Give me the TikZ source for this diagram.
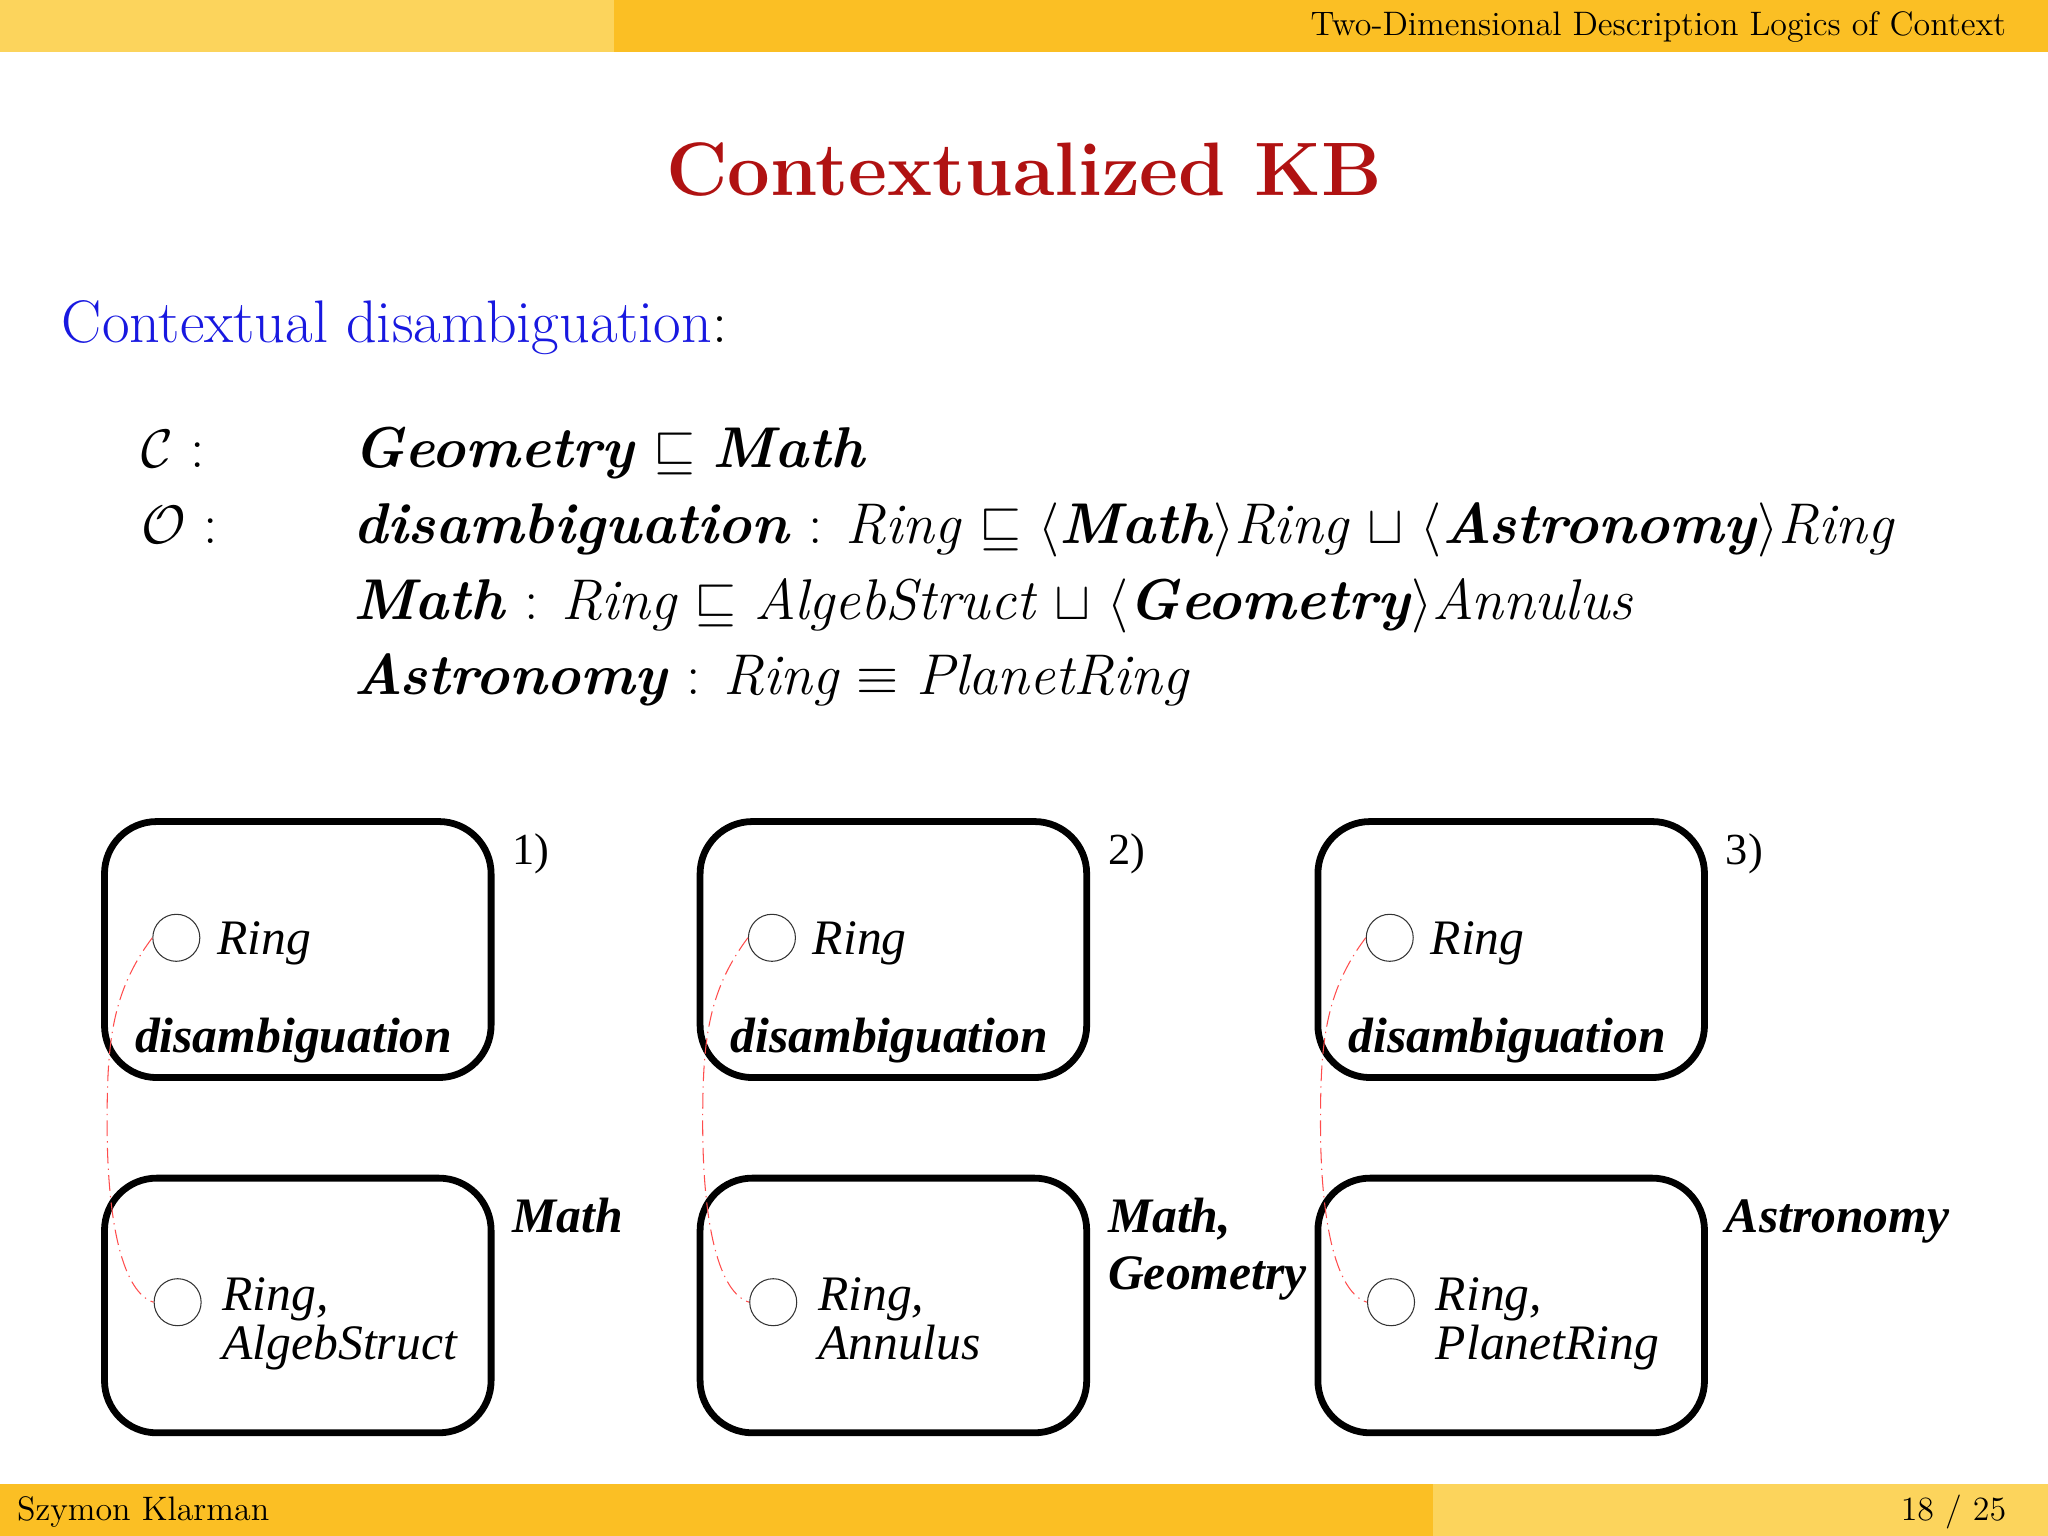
\documentclass[tikz,border=0pt]{standalone}
\usepackage{amsmath,amssymb}
\usepackage{fontspec}
\newfontfamily\tms{Liberation Serif}
\definecolor{hdark}{HTML}{FBBF24}
\definecolor{hlight}{HTML}{FCD45C}
\definecolor{ttl}{HTML}{B01212}
\definecolor{blu}{HTML}{1818E0}
\newcommand{\bi}[1]{\textbf{\textit{#1}}}
\begin{document}
\begin{tikzpicture}[x=0.5pt,y=-0.5pt,
  ctx/.style={draw,line width=2.6pt,rounded corners=20pt},
  pt/.style={draw,circle,inner sep=0pt,minimum size=18pt,line width=0.4pt,black!80},
  lbl/.style={font=\tms\fontsize{19}{20}\selectfont\itshape,anchor=base west,inner sep=0pt},
  blbl/.style={font=\tms\fontsize{19}{21}\selectfont\bfseries\itshape,anchor=base west,inner sep=0pt},
  rel/.style={red!70!white,line width=0.4pt,dash pattern=on 6pt off 2pt on 0.5pt off 2pt}]
\useasboundingbox (0,0) rectangle (1568,1176);
\fill[hlight] (0,0) rectangle (470,40);
\fill[hdark] (470,0) rectangle (1568,40);
\fill[hdark] (0,1136) rectangle (1097,1176);
\fill[hlight] (1097,1136) rectangle (1568,1176);
\node[anchor=base east,font=\fontsize{13}{14}\selectfont] (hdr) at (1543,27) {Two-Dimensional Description Logics of Context};
\node[anchor=base west,font=\fontsize{13}{14}\selectfont] (auth) at (6,1164) {Szymon Klarman};
\node[anchor=base east,font=\fontsize{13}{14}\selectfont] (pg) at (1543,1164) {18 / 25};
\node[anchor=base,font=\fontsize{29}{31}\selectfont\bfseries,text=ttl] (title) at (784,150) {Contextualized KB};
\node[anchor=base west,inner sep=0pt,font=\fontsize{23}{25}\selectfont] (sub) at (47,262) {\textcolor{blu}{Contextual disambiguation}:};
\begin{scope}[every node/.style={anchor=base west,inner sep=0pt,font=\fontsize{22}{24}\selectfont}]
\node (c) at (108,358) {$\mathcal{C}$ :};
\node (o) at (108,416) {$\mathcal{O}$ :};
\node (f1) at (270,358) {\bi{Geometry} $\sqsubseteq$ \bi{Math}};
\node (f2) at (270,416) {\bi{disambiguation} : \textit{Ring} $\sqsubseteq$ $\langle$\bi{Math}$\rangle$\textit{Ring} $\sqcup$ $\langle$\bi{Astronomy}$\rangle$\textit{Ring}};
\node (f3) at (270,474) {\bi{Math} : \textit{Ring} $\sqsubseteq$ \textit{AlgebStruct} $\sqcup$ $\langle$\bi{Geometry}$\rangle$\textit{Annulus}};
\node (f4) at (270,532) {\bi{Astronomy} : \textit{Ring} $\equiv$ \textit{PlanetRing}};
\end{scope}
\foreach \i/\dx/\num/\laba/\labb/\txt in {1/0/1)/{Math}/{}/{AlgebStruct},2/456/2)/{Math,}/{Geometry}/{Annulus},3/929/3)/{Astronomy}/{}/{PlanetRing}}{
  \begin{scope}[xshift=\dx*0.5pt]
  \draw[ctx] (80,629) rectangle (376,825);
  \draw[ctx] (80,902) rectangle (376,1097);
  \node[pt] (t\i) at (135,718) {};
  \node[pt] (b\i) at (136,997) {};
  \node[lbl] (tr\i) at (166,731) {Ring};
  \node[blbl] (td\i) at (103,806) {disambiguation};
  \node[lbl] (br\i) at (170,1003) {Ring,};
  \node[lbl] (bs\i) at (170,1041) {\txt};
  \node[anchor=base west,inner sep=0pt,font=\tms\fontsize{17}{18}\selectfont] (n\i) at (392,662) {\num};
  \node[blbl] (l\i) at (392,944) {\laba};
  \node[blbl] (m\i) at (392,987) {\labb};
  \draw[rel] (t\i.west) .. controls (85,760) and (82,800) .. (82,860) .. controls (82,940) and (95,990) .. (b\i.west);
  \end{scope}
}
\end{tikzpicture}
\end{document}
